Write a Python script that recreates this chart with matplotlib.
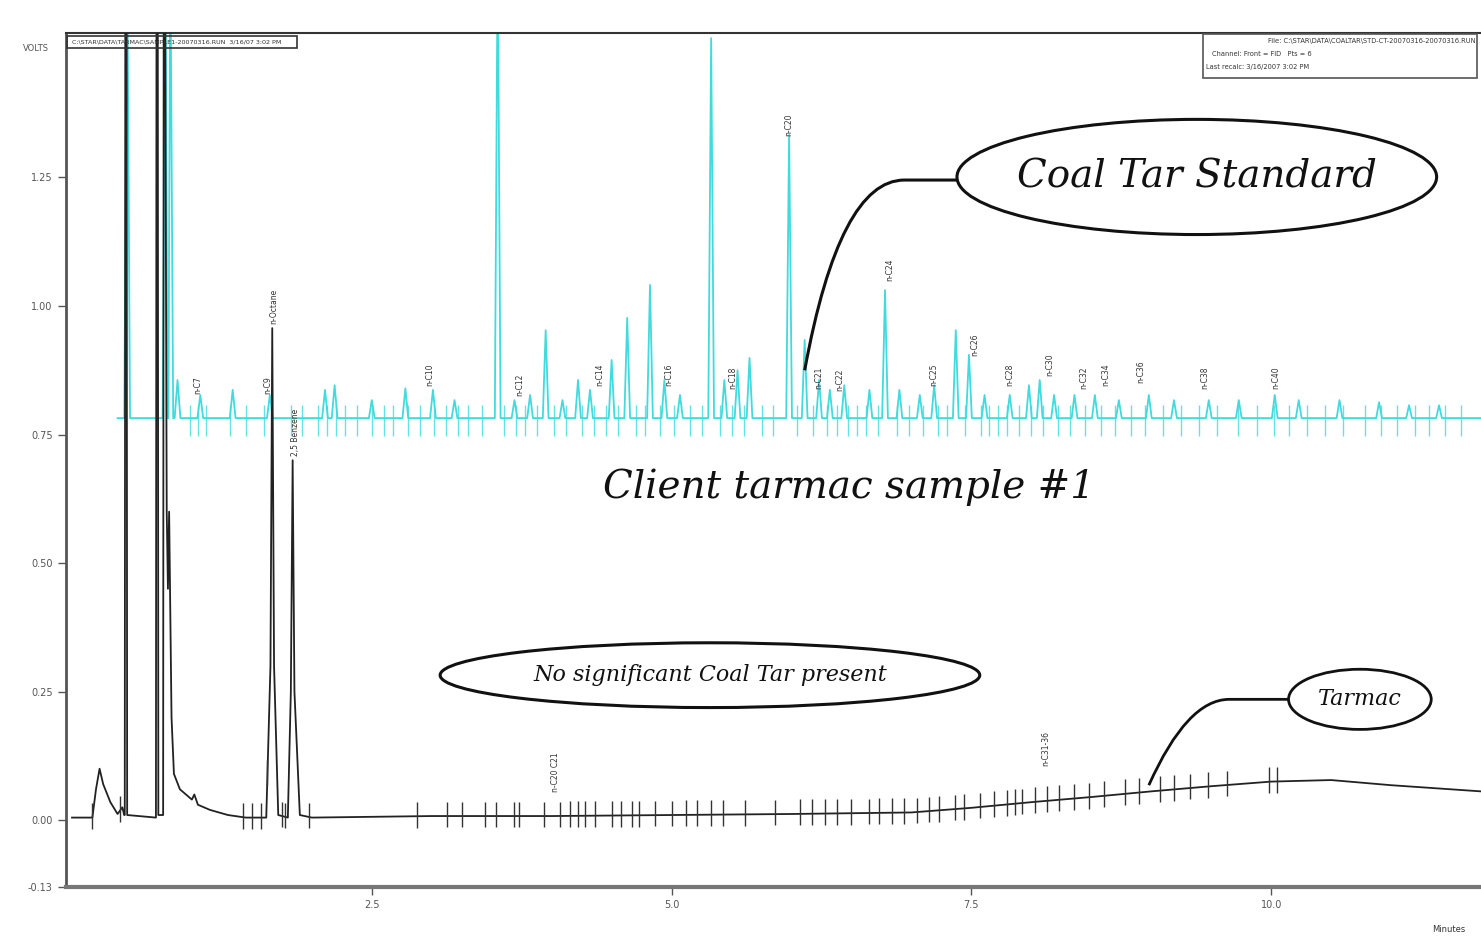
import numpy as np
import matplotlib
matplotlib.use('Agg')
import matplotlib.pyplot as plt
from matplotlib.patches import Ellipse, Rectangle, PathPatch
from matplotlib.path import Path

# ---- Coal tar standard trace (cyan) ----
std_base = 0.782
std_peak_t = [0.46, 0.78, 0.82, 0.88, 1.07, 1.34, 1.65, 2.11, 2.19, 2.50, 2.78, 3.01,
              3.19, 3.55, 3.69, 3.82, 3.95, 4.09, 4.22, 4.32, 4.50, 4.63, 4.82, 4.94,
              5.07, 5.33, 5.44, 5.55, 5.65, 5.98, 6.11, 6.23, 6.32, 6.44, 6.65, 6.78,
              6.90, 7.07, 7.19, 7.37, 7.48, 7.61, 7.82, 7.98, 8.07, 8.19, 8.36, 8.53,
              8.73, 8.98, 9.19, 9.48, 9.73, 10.03, 10.23, 10.57, 10.90, 11.15, 11.40]
std_peak_v = [1.70, 1.70, 1.70, 0.856, 0.827, 0.837, 0.827, 0.837, 0.846, 0.817, 0.840, 0.837,
              0.817, 1.70, 0.817, 0.827, 0.953, 0.817, 0.856, 0.837, 0.895, 0.977, 1.041, 0.856,
              0.827, 1.521, 0.856, 0.875, 0.899, 1.333, 0.934, 0.856, 0.837, 0.846, 0.837, 1.031,
              0.837, 0.827, 0.846, 0.953, 0.905, 0.827, 0.827, 0.846, 0.856, 0.827, 0.827, 0.827,
              0.817, 0.827, 0.817, 0.817, 0.817, 0.827, 0.817, 0.817, 0.813, 0.807, 0.807]
std_ticks = [0.98, 1.05, 1.12, 1.32, 1.45, 1.60, 1.83, 1.92, 2.05, 2.13, 2.20, 2.28, 2.38,
             2.50, 2.60, 2.68, 2.80, 2.90, 3.02, 3.12, 3.22, 3.30, 3.42, 3.60, 3.70, 3.78,
             3.88, 4.02, 4.12, 4.25, 4.35, 4.45, 4.55, 4.70, 4.78, 4.90, 5.02, 5.15, 5.25,
             5.40, 5.50, 5.60, 5.75, 5.85, 6.05, 6.18, 6.30, 6.38, 6.47, 6.55, 6.62, 6.72,
             6.88, 6.98, 7.10, 7.22, 7.30, 7.45, 7.58, 7.65, 7.72, 7.80, 7.90, 8.00, 8.10,
             8.22, 8.32, 8.45, 8.58, 8.70, 8.83, 8.95, 9.10, 9.25, 9.40, 9.55, 9.72, 9.88,
             10.02, 10.15, 10.30, 10.45, 10.60, 10.78, 10.92, 11.05, 11.20, 11.32, 11.45, 11.58]
std_label_t = [1.05, 2.98, 3.73, 4.40, 4.98, 5.51, 5.98, 6.23, 6.40, 6.82, 7.19, 7.53,
               7.82, 8.15, 8.44, 8.62, 8.91, 9.45, 10.04]
std_label_v = [0.846, 0.866, 0.846, 0.866, 0.866, 0.860, 1.352, 0.860, 0.856, 1.070, 0.866, 0.924,
               0.866, 0.885, 0.860, 0.866, 0.872, 0.860, 0.860]
std_labels = ['n-C7', 'n-C10', 'n-C12', 'n-C14', 'n-C16', 'n-C18', 'n-C20', 'n-C21', 'n-C22',
              'n-C24', 'n-C25', 'n-C26', 'n-C28', 'n-C30', 'n-C32', 'n-C34', 'n-C36', 'n-C38',
              'n-C40']

# ---- Client tarmac sample #1 trace (black) ----
smp_t = [0.00, 0.17, 0.20, 0.23, 0.26, 0.32, 0.38, 0.42, 0.435, 0.44, 0.445, 0.455, 0.46,
         0.70, 0.705, 0.715, 0.72, 0.76, 0.765, 0.775, 0.79, 0.80, 0.81, 0.83, 0.85, 0.90,
         1.00, 1.02, 1.05, 1.15, 1.30, 1.45, 1.62, 1.655, 1.67, 1.685, 1.72, 1.80, 1.825,
         1.84, 1.855, 1.90, 2.00, 3.00, 4.00, 5.00, 6.00, 7.00, 7.50, 8.00, 8.50, 9.00,
         9.50, 10.00, 10.50, 11.00, 11.75]
smp_v = [0.005, 0.005, 0.06, 0.10, 0.07, 0.035, 0.012, 0.025, 0.01, 0.01, 1.70, 1.70, 0.01,
         0.005, 1.70, 1.70, 0.01, 0.01, 1.70, 1.70, 0.60, 0.45, 0.60, 0.20, 0.09, 0.06,
         0.04, 0.05, 0.03, 0.02, 0.01, 0.005, 0.005, 0.30, 0.957, 0.30, 0.01, 0.005, 0.25,
         0.70, 0.25, 0.01, 0.005, 0.008, 0.008, 0.010, 0.012, 0.015, 0.024, 0.035, 0.045, 0.056,
         0.066, 0.075, 0.078, 0.068, 0.056]
smp_ticks = [0.17, 0.40, 1.43, 1.50, 1.58, 1.63, 1.75, 1.78, 1.98, 2.88, 3.13, 3.25, 3.44,
             3.54, 3.69, 3.73, 3.94, 4.07, 4.15, 4.22, 4.28, 4.36, 4.50, 4.58, 4.67, 4.73,
             4.86, 5.00, 5.12, 5.21, 5.33, 5.43, 5.61, 5.86, 6.07, 6.17, 6.28, 6.38, 6.50,
             6.65, 6.73, 6.84, 6.94, 7.05, 7.15, 7.23, 7.36, 7.44, 7.57, 7.69, 7.80, 7.86,
             7.92, 8.03, 8.13, 8.23, 8.36, 8.48, 8.61, 8.78, 8.90, 9.07, 9.19, 9.32, 9.47,
             9.63, 9.98, 10.05]
smp_label_t = [1.63, 1.68, 1.86, 4.03, 8.12]
smp_label_v = [0.846, 1.00, 0.755, 0.093, 0.140]
smp_labels = ['n-C9', 'n-Octane', '2,5 Benzene', 'n-C20 C21', 'n-C31-36']

x_ticks = [2.5, 5.0, 7.5, 10.0]
y_ticks = [-0.13, 0.00, 0.25, 0.50, 0.75, 1.00, 1.25]

cyan = '#3fdbdd'

fig = plt.figure(figsize=(14.81, 9.39), dpi=100)
ax = fig.add_axes([66 / 1481, 1 - 887 / 939, 1 - 66 / 1481, (887 - 33) / 939])
ax.set_xlim(-0.05, 11.75)
ax.set_ylim(-0.13, 1.531)

# standard trace: narrow peaks on a flat baseline
hw = 0.024
pts = [(0.38, std_base)]
for t, v in zip(std_peak_t, std_peak_v):
    pts += [(t - hw, std_base), (t, v), (t + hw, std_base)]
pts.append((11.75, std_base))
pts.sort(key=lambda p: p[0])
ax.plot([p[0] for p in pts], [p[1] for p in pts], color=cyan, lw=1.3, zorder=2)
ax.vlines(std_ticks, std_base - 0.035, std_base + 0.025, color=cyan, lw=1.0, alpha=0.8, zorder=2)
for t, v, s in zip(std_label_t, std_label_v, std_labels):
    ax.text(t, v, s, rotation=90, ha='center', va='center', fontsize=5.5, color='#333333')

# client sample trace
ax.plot(smp_t, smp_v, color='#222222', lw=1.3, zorder=3)
tick_y = np.interp(smp_ticks, smp_t, smp_v)
ax.vlines(smp_ticks, tick_y - 0.022, tick_y + 0.028, color='#333333', lw=1.0, zorder=3)
for t, v, s in zip(smp_label_t, smp_label_v, smp_labels):
    ax.text(t, v, s, rotation=90, ha='center', va='center', fontsize=5.5, color='#333333')

# annotations
script = dict(family='DejaVu Serif', style='italic', color='#111111')
ax.add_patch(Ellipse((9.38, 1.251), 4.0, 0.224, fill=False, lw=2.2, ec='#111111', zorder=4))
ax.text(9.38, 1.251, 'Coal Tar Standard', ha='center', va='center', fontsize=28, **script)
p = Path([(7.38, 1.245), (6.94, 1.245), (6.40, 1.245), (6.11, 0.875)],
         [Path.MOVETO, Path.LINETO, Path.CURVE3, Path.CURVE3])
ax.add_patch(PathPatch(p, fill=False, lw=2.2, ec='#111111', zorder=4))

ax.text(6.48, 0.648, 'Client tarmac sample #1', ha='center', va='center', fontsize=28, **script)

ax.add_patch(Ellipse((5.32, 0.282), 4.5, 0.126, fill=False, lw=2.2, ec='#111111', zorder=4))
ax.text(5.32, 0.282, 'No significant Coal Tar present', ha='center', va='center', fontsize=16, **script)

ax.add_patch(Ellipse((10.74, 0.235), 1.19, 0.117, fill=False, lw=2.0, ec='#111111', zorder=4))
ax.text(10.74, 0.235, 'Tarmac', ha='center', va='center', fontsize=16, **script)
p2 = Path([(10.15, 0.235), (9.65, 0.235), (9.30, 0.235), (8.98, 0.068)],
          [Path.MOVETO, Path.LINETO, Path.CURVE3, Path.CURVE3])
ax.add_patch(PathPatch(p2, fill=False, lw=2.0, ec='#111111', zorder=4))

# header boxes
ax.add_patch(Rectangle((0.001, 0.982), 0.162, 0.0145, transform=ax.transAxes, fill=False,
                       ec='#333333', lw=1.2, clip_on=False, zorder=5))
ax.text(0.004, 0.9893, 'C:\\STAR\\DATA\\TARMAC\\SAMPLE1-20070316.RUN  3/16/07 3:02 PM',
        transform=ax.transAxes, fontsize=4.6, va='center', ha='left', color='#333333')
ax.add_patch(Rectangle((0.8035, 0.947), 0.194, 0.052, transform=ax.transAxes, fill=False,
                       ec='#555555', lw=1.2, clip_on=False, zorder=5))
ax.text(0.996, 0.991, 'File: C:\\STAR\\DATA\\COALTAR\\STD-CT-20070316-20070316.RUN',
        transform=ax.transAxes, fontsize=4.8, va='center', ha='right', color='#333333')
ax.text(0.810, 0.975, 'Channel: Front = FID   Pts = 6',
        transform=ax.transAxes, fontsize=4.8, va='center', ha='left', color='#333333')
ax.text(0.806, 0.960, 'Last recalc: 3/16/2007 3:02 PM',
        transform=ax.transAxes, fontsize=4.8, va='center', ha='left', color='#333333')

# axes styling
ax.spines['right'].set_visible(False)
ax.spines['left'].set_color('#555555')
ax.spines['left'].set_linewidth(2)
ax.spines['top'].set_color('#333333')
ax.spines['top'].set_linewidth(1.5)
ax.spines['bottom'].set_color('#777777')
ax.spines['bottom'].set_linewidth(3)
ax.set_xticks(x_ticks)
ax.set_xticklabels([f'{v:.1f}' for v in x_ticks])
ax.set_yticks(y_ticks)
ax.set_yticklabels([f'{v:.2f}' for v in y_ticks])
ax.tick_params(axis='both', labelsize=7, colors='#555555', length=6, width=1)
ax.text(-0.012, 1.50, 'VOLTS', transform=ax.get_yaxis_transform(), fontsize=6,
        ha='right', va='center', color='#555555')
fig.text(0.978, 0.005, 'Minutes', fontsize=6, ha='center', va='bottom', color='#333333')

fig.savefig('out.png', dpi=100)
